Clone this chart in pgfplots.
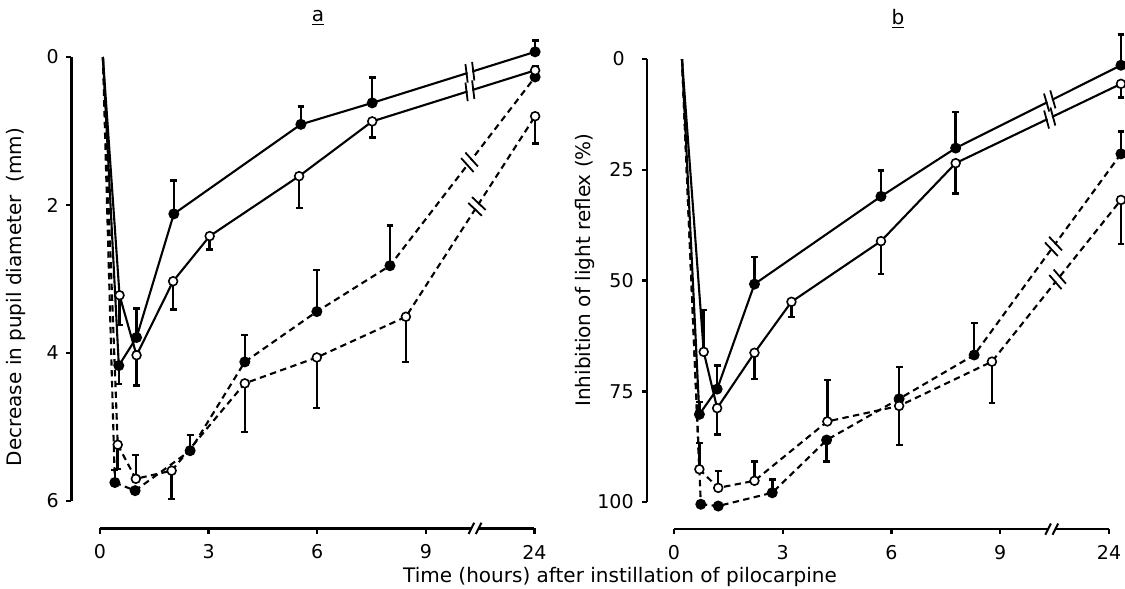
\documentclass[border=0pt]{standalone}
\usepackage{pgfplots}
\pgfplotsset{compat=1.18}
\usepackage{fontspec}
\setmainfont{DejaVu Sans}
\usetikzlibrary{decorations.markings}

% break sign on a data line
\tikzset{
  brk/.style={postaction={decorate,decoration={markings,
    mark=at position #1 with {
      \fill[white] (-1.2pt,-2.4pt) rectangle (1.2pt,2.4pt);
      \draw[solid,black,line width=0.9pt]
        (-2.6pt,-4.6pt) -- (-0.9pt,4.6pt)
        (0.9pt,-4.6pt) -- (2.6pt,4.6pt);
    }}}},
}

\pgfplotsset{
  sol/.style={black, line width=1.05pt, solid},
  das/.style={black, line width=1.05pt, dash pattern=on 3.2pt off 2.2pt},
  fil/.style={mark=*, mark size=2.2pt, mark options={solid, fill=black}},
  opn/.style={mark=*, mark size=2.2pt, mark options={solid, fill=white, line width=0.8pt}},
  eb/.style={error bars/.cd, y dir=both, y explicit,
    error mark=-,
    error bar style={solid, line width=1.25pt},
    error mark options={solid, rotate=90, mark size=1.7pt, line width=1.25pt}},
}

\newcommand{\tk}{\fontsize{9.5}{10}\selectfont}
\newcommand{\lb}{\fontsize{10}{12}\selectfont}

\begin{document}
\begin{tikzpicture}
\useasboundingbox (0,0) rectangle (562.5pt,294.5pt);

% ---------------- panel a ----------------
\begin{axis}[hide axis, clip=false,
    x=18.1pt, y=37pt, y dir=reverse,
    xmin=-0.8, xmax=12.6, ymin=-0.8, ymax=7.0,
    at={(35.52pt,7pt)}, anchor=south west]

% axes drawn by hand (detached, with break)
\draw[line width=1.2pt] (axis cs:-0.79,0) -- (axis cs:-0.79,6);
\draw[line width=1.2pt] (axis cs:-0.79,0) -- ++(-2.6pt,0pt);
\draw[line width=1.2pt] (axis cs:-0.79,2) -- ++(-2.6pt,0pt);
\draw[line width=1.2pt] (axis cs:-0.79,4) -- ++(-2.6pt,0pt);
\draw[line width=1.2pt] (axis cs:-0.79,6) -- ++(-2.6pt,0pt);
\node[anchor=east, inner sep=0pt, xshift=-6.2pt] at (axis cs:-0.79,0) {\tk 0};
\node[anchor=east, inner sep=0pt, xshift=-6.2pt] at (axis cs:-0.79,2) {\tk 2};
\node[anchor=east, inner sep=0pt, xshift=-6.2pt] at (axis cs:-0.79,4) {\tk 4};
\node[anchor=east, inner sep=0pt, xshift=-6.2pt] at (axis cs:-0.79,6) {\tk 6};

\draw[line width=1.2pt] (axis cs:0,6.37) -- (axis cs:10.26,6.37);
\draw[line width=1.2pt] (axis cs:10.48,6.37) -- (axis cs:12,6.37);
\draw[line width=1pt] (axis cs:10.26,6.37) ++(-1.4pt,-2.8pt) -- ++(2.8pt,5.6pt);
\draw[line width=1pt] (axis cs:10.46,6.37) ++(-1.4pt,-2.8pt) -- ++(2.8pt,5.6pt);
\foreach \t in {0,3,6,9,12}{
  \edef\temp{\noexpand\draw[line width=1.2pt] (axis cs:\t,6.37) -- ++(0pt,-2.6pt);}
  \temp
}
\node[inner sep=0pt] at (axis cs:0,6.69) {\tk 0};
\node[inner sep=0pt] at (axis cs:3,6.69) {\tk 3};
\node[inner sep=0pt] at (axis cs:6,6.69) {\tk 6};
\node[inner sep=0pt] at (axis cs:9,6.69) {\tk 9};
\node[inner sep=0pt] at (axis cs:12,6.69) {\tk 24};

% first fall from time zero
\addplot[sol] coordinates {(0.08,0) (0.52,4.17)};
\addplot[sol] coordinates {(0.08,0) (0.54,3.22)};
\addplot[das] coordinates {(0.08,0) (0.41,5.75)};
\addplot[das] coordinates {(0.08,0) (0.49,5.24)};

% dashed, filled
\addplot[das, fil, eb] coordinates {
  (0.41,5.75) -= (0,0.17)
  (0.97,5.86)
  (2.49,5.32) -= (0,0.21)
  (4.00,4.12) -= (0,0.36)
  (5.99,3.44) -= (0,0.56)
  (8.01,2.82) -= (0,0.54)
  (12.02,0.27) -= (0,0.15)
};
% dashed, open
\addplot[das, opn, eb] coordinates {
  (0.49,5.24) += (0,0.33)
  (0.99,5.70) -= (0,0.32)
  (1.98,5.59) += (0,0.38)
  (4.00,4.41) += (0,0.66)
  (5.99,4.06) += (0,0.68)
  (8.45,3.51) += (0,0.61)
  (12.02,0.80) += (0,0.37)
};
% solid, filled
\addplot[sol, fil, eb] coordinates {
  (0.52,4.17) += (0,0.25)
  (1.01,3.79) -= (0,0.39)
  (2.04,2.12) -= (0,0.45)
  (5.55,0.91) -= (0,0.24)
  (7.52,0.62) -= (0,0.34)
  (12.02,-0.07) -= (0,0.15)
};
% solid, open
\addplot[sol, opn, eb] coordinates {
  (0.54,3.22) += (0,0.40)
  (1.01,4.03) += (0,0.41)
  (2.02,3.03) += (0,0.38)
  (3.03,2.42) += (0,0.18)
  (5.50,1.61) += (0,0.43)
  (7.52,0.87) += (0,0.22)
  (12.02,0.18) += (0,0.13)
};

% break signs on the last segments
\addplot[draw=none, brk=0.6] coordinates {(7.52,0.62) (12.02,-0.07)};
\addplot[draw=none, brk=0.6] coordinates {(7.52,0.87) (12.02,0.18)};
\addplot[draw=none, brk=0.55] coordinates {(8.01,2.82) (12.02,0.27)};
\addplot[draw=none, brk=0.55] coordinates {(8.45,3.51) (12.02,0.80)};
\end{axis}

% ---------------- panel b ----------------
\begin{axis}[hide axis, clip=false,
    x=18.125pt, y=2.215pt, y dir=reverse,
    xmin=-0.9, xmax=12.6, ymin=-10, ymax=115,
    at={(320.69pt,10.25pt)}, anchor=south west]

\draw[line width=1.2pt] (axis cs:-0.745,0) -- (axis cs:-0.745,100);
\draw[line width=1.2pt] (axis cs:-0.745,0) -- ++(-2.6pt,0pt);
\draw[line width=1.2pt] (axis cs:-0.745,25) -- ++(-2.6pt,0pt);
\draw[line width=1.2pt] (axis cs:-0.745,50) -- ++(-2.6pt,0pt);
\draw[line width=1.2pt] (axis cs:-0.745,75) -- ++(-2.6pt,0pt);
\draw[line width=1.2pt] (axis cs:-0.745,100) -- ++(-2.6pt,0pt);
\node[anchor=east, inner sep=0pt, xshift=-11pt] at (axis cs:-0.745,0) {\tk 0};
\node[anchor=east, inner sep=0pt, xshift=-6.5pt] at (axis cs:-0.745,25) {\tk 25};
\node[anchor=east, inner sep=0pt, xshift=-6.5pt] at (axis cs:-0.745,50) {\tk 50};
\node[anchor=east, inner sep=0pt, xshift=-6.5pt] at (axis cs:-0.745,75) {\tk 75};
\node[anchor=east, inner sep=0pt, xshift=-6.5pt] at (axis cs:-0.745,100) {\tk 100};

\draw[line width=1.2pt] (axis cs:0,106.1) -- (axis cs:10.32,106.1);
\draw[line width=1.2pt] (axis cs:10.54,106.1) -- (axis cs:12,106.1);
\draw[line width=1pt] (axis cs:10.32,106.1) ++(-1.4pt,-2.8pt) -- ++(2.8pt,5.6pt);
\draw[line width=1pt] (axis cs:10.52,106.1) ++(-1.4pt,-2.8pt) -- ++(2.8pt,5.6pt);
\foreach \t in {0,3,6,9,12}{
  \edef\temp{\noexpand\draw[line width=1.2pt] (axis cs:\t,106.1) -- ++(0pt,-2.6pt);}
  \temp
}
\node[inner sep=0pt] at (axis cs:0,111.4) {\tk 0};
\node[inner sep=0pt] at (axis cs:3,111.4) {\tk 3};
\node[inner sep=0pt] at (axis cs:6,111.4) {\tk 6};
\node[inner sep=0pt] at (axis cs:9,111.4) {\tk 9};
\node[inner sep=0pt] at (axis cs:12,111.4) {\tk 24};

\addplot[sol] coordinates {(0.22,0) (0.70,80.2)};
\addplot[sol] coordinates {(0.22,0) (0.82,66.1)};
\addplot[das] coordinates {(0.22,0) (0.74,100.5)};
\addplot[das] coordinates {(0.22,0) (0.70,92.6)};

% dashed, filled
\addplot[das, fil, eb] coordinates {
  (0.74,100.5)
  (1.22,100.9)
  (2.71,97.9) -= (0,3.0)
  (4.21,86.0) += (0,4.9)
  (6.21,76.7) -= (0,7.2)
  (8.28,66.8) -= (0,7.2)
  (12.33,21.4) -= (0,5.0)
};
% dashed, open
\addplot[das, opn, eb] coordinates {
  (0.70,92.6) -= (0,5.9)
  (1.22,96.8) -= (0,3.8)
  (2.22,95.2) -= (0,4.4)
  (4.23,81.8) -= (0,9.3)
  (6.21,78.3) += (0,8.8)
  (8.77,68.3) += (0,9.3)
  (12.33,31.8) += (0,10.0)
};
% solid, filled
\addplot[sol, fil, eb] coordinates {
  (0.70,80.2) -= (0,2.8)
  (1.19,74.5) -= (0,5.3)
  (2.22,50.8) -= (0,6.1)
  (5.71,31.0) -= (0,5.8)
  (7.77,20.1) -= (0,8.2)
  (12.33,1.4) -= (0,6.9)
};
% solid, open
\addplot[sol, opn, eb] coordinates {
  (0.82,66.1) -= (0,9.5)
  (1.19,78.8) += (0,5.9)
  (2.22,66.3) += (0,5.9)
  (3.24,54.8) += (0,3.4)
  (5.71,41.1) += (0,7.4)
  (7.77,23.5) += (0,6.8)
  (12.33,5.6) += (0,3.1)
};

\addplot[draw=none, brk=0.57] coordinates {(7.77,20.1) (12.33,1.4)};
\addplot[draw=none, brk=0.57] coordinates {(7.77,23.5) (12.33,5.6)};
\addplot[draw=none, brk=0.54] coordinates {(8.28,66.8) (12.33,21.4)};
\addplot[draw=none, brk=0.51] coordinates {(8.77,68.3) (12.33,31.8)};
\end{axis}

% titles and axis labels
\node at (159pt,285.5pt) {\lb\underline{a}};
\node at (449pt,285pt) {\lb\underline{b}};
\node[rotate=90] at (8pt,146pt) {\lb Decrease in pupil diameter\ \ (mm)};
\node[rotate=90] at (292.5pt,159.5pt) {\lb Inhibition of light reflex (\%)};
\node at (310pt,6pt) {\lb Time (hours) after instillation of pilocarpine};
\end{tikzpicture}
\end{document}
